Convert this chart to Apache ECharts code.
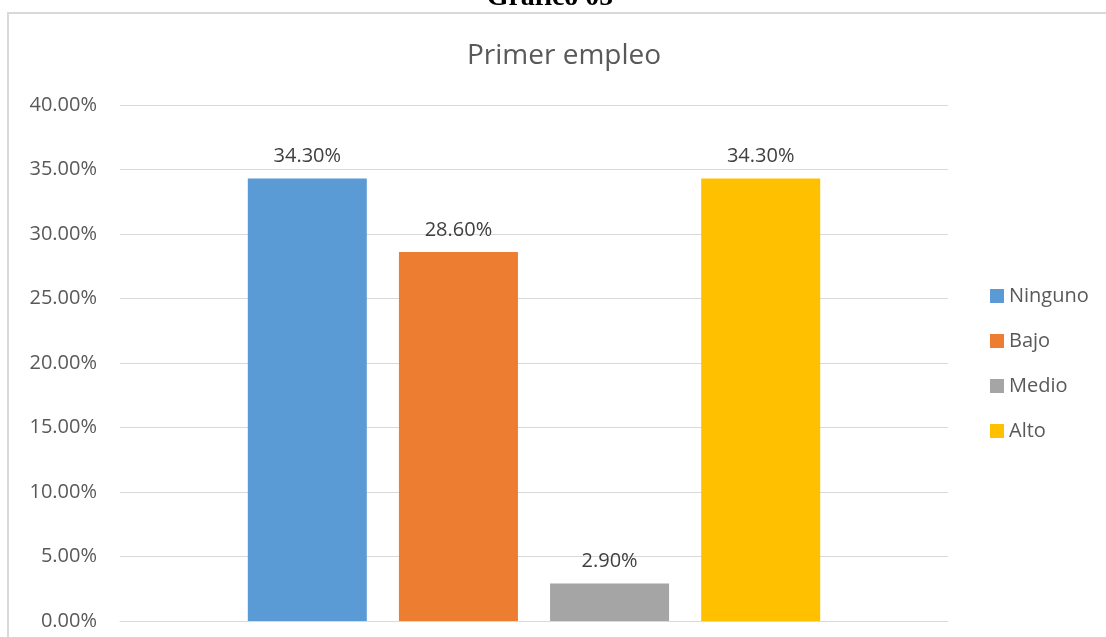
<!DOCTYPE html>
<html>
<head>
<meta charset="utf-8">
<script src="https://cdn.jsdelivr.net/npm/echarts@6/dist/echarts.min.js"></script>
<style>
  html, body { margin: 0; padding: 0; background: #fff; }
  #chart { width: 1106px; height: 637px; }
</style>
</head>
<body>
<div id="chart"></div>
<script>
// datos del gráfico
const categorias = ['Primer empleo'];
const series = ['Ninguno', 'Bajo', 'Medio', 'Alto'];
const valores = [0.343, 0.286, 0.029, 0.343];
const colores = ['#5B9BD5', '#ED7D31', '#A5A5A5', '#FFC000'];

const fuente = '"Open Sans", "Noto Sans", sans-serif';
const pct = v => (v * 100).toFixed(2) + '%';

let chart = echarts.init(document.getElementById('chart'), null, {renderer: 'canvas'});

let option = {
    animation: false,
    backgroundColor: '#fff',
    color: colores,
    graphic: [
        {
            type: 'rect',
            shape: {x: 8, y: 13, width: 1200, height: 700},
            style: {fill: 'none', stroke: '#d9d9d9', lineWidth: 2},
            silent: true
        },
        {
            type: 'text',
            x: 550,
            y: -2,
            style: {
                text: 'Gráfico 05',
                font: 'bold 28px "Liberation Serif", serif',
                fill: '#000',
                align: 'center',
                verticalAlign: 'middle'
            }
        },
        {
            type: 'text',
            x: 564,
            y: 56,
            style: {
                text: 'Primer empleo',
                font: '28px "Open Sans", sans-serif',
                fill: '#595959',
                align: 'center',
                verticalAlign: 'middle'
            }
        }
    ],
    legend: {
        orient: 'vertical',
        left: 990,
        top: 286,
        padding: 0,
        itemWidth: 14,
        itemHeight: 14,
        itemGap: 25,
        icon: 'rect',
        data: series,
        textStyle: {
            fontFamily: fuente,
            fontSize: 20,
            color: '#595959'
        }
    },
    grid: {
        left: 120,
        right: 158,
        top: 105,
        bottom: 16,
        containLabel: false
    },
    xAxis: {
        type: 'category',
        data: categorias,
        axisLine: {lineStyle: {color: '#d9d9d9', width: 1}},
        axisTick: {show: false},
        axisLabel: {show: false}
    },
    yAxis: {
        type: 'value',
        min: 0,
        max: 0.4,
        interval: 0.05,
        axisLine: {show: false},
        axisTick: {show: false},
        axisLabel: {
            formatter: v => pct(v),
            margin: 23,
            fontFamily: fuente,
            fontSize: 20,
            color: '#595959'
        },
        splitLine: {lineStyle: {color: '#d9d9d9', width: 1}}
    },
    series: series.map((nombre, i) => ({
        name: nombre,
        type: 'bar',
        data: [valores[i]],
        barWidth: 119,
        barGap: '27%',
        itemStyle: {color: colores[i]},
        label: {
            show: true,
            position: 'top',
            distance: 12,
            formatter: p => pct(p.value),
            fontFamily: fuente,
            fontSize: 20,
            color: '#404040'
        }
    }))
};

chart.setOption(option);
</script>
</body>
</html>
